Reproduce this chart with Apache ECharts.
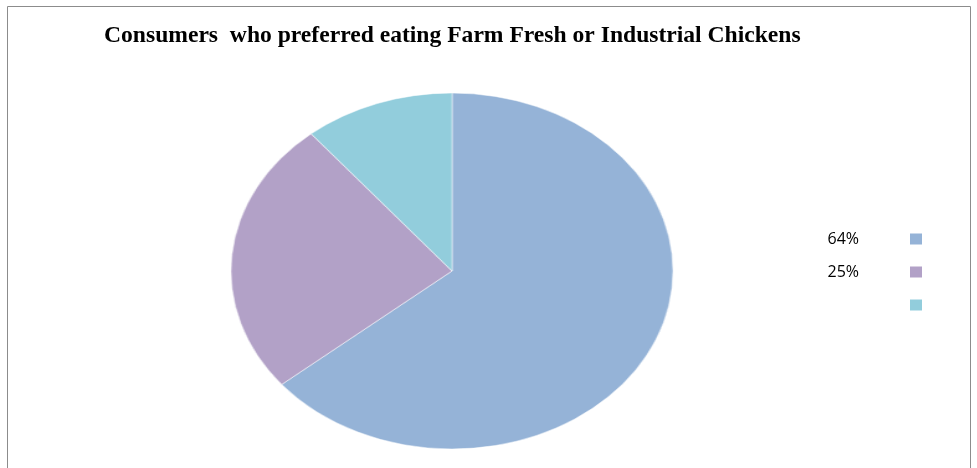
<!DOCTYPE html>
<html>
<head>
<meta charset="utf-8">
<script src="https://cdn.jsdelivr.net/npm/echarts@6/dist/echarts.min.js"></script>
<style>
  html, body { margin: 0; padding: 0; background: #fff; }
  #wrap { position: relative; width: 977px; height: 468px; overflow: hidden; }
  #main { position: absolute; left: 0; top: 0; width: 977px; height: 468px; }
  #pie { position: absolute; left: 252px; top: 71px; width: 400px; height: 400px;
         transform: scaleX(1.2416); transform-origin: 50% 50%; }
</style>
</head>
<body>
<div id="wrap">
  <div id="main"></div>
  <div id="pie"></div>
</div>
<script>
var titleText = 'Consumers  who preferred eating Farm Fresh or Industrial Chickens'
var categories = ['64%', '25%', ' ']
var values = [64, 25, 11]
var colors = ['#95B3D7', '#B2A1C7', '#92CDDC']

var pieData = categories.map(function (c, i) {
  return { name: c, value: values[i] }
})

// title, legend and frame
var chart = echarts.init(document.getElementById('main'))
chart.setOption({
  animation: false,
  color: colors,
  title: {
    text: titleText,
    left: 104,
    top: 24,
    padding: 0,
    textStyle: {
      fontFamily: 'Liberation Serif',
      fontWeight: 'bold',
      fontSize: 23.6,
      color: '#000'
    }
  },
  legend: {
    orient: 'vertical',
    right: 50,
    top: 224,
    align: 'right',
    itemWidth: 12,
    itemHeight: 11,
    itemGap: 13,
    icon: 'rect',
    data: categories,
    textStyle: {
      fontFamily: 'Open Sans',
      fontSize: 16,
      lineHeight: 20,
      color: '#000',
      padding: [0, 46, 0, 0]
    }
  },
  graphic: [{
    type: 'rect',
    shape: { x: 7.5, y: 6.5, width: 963, height: 480 },
    style: { fill: 'none', stroke: '#8c8c8c', lineWidth: 1 }
  }],
  series: [{
    type: 'pie',
    radius: [0, 0],
    silent: true,
    label: { show: false },
    data: pieData
  }]
})

// pie, stretched horizontally into an ellipse
var pie = echarts.init(document.getElementById('pie'))
pie.setOption({
  animation: false,
  color: colors,
  series: [{
    type: 'pie',
    radius: 178,
    center: ['50%', '50%'],
    startAngle: 90,
    clockwise: true,
    label: { show: false },
    labelLine: { show: false },
    itemStyle: { borderColor: '#fff', borderWidth: 0.5 },
    data: pieData
  }]
})
</script>
</body>
</html>
